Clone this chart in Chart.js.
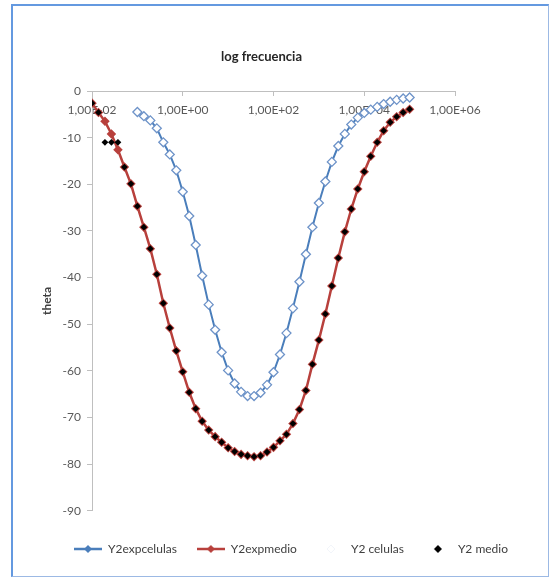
<!DOCTYPE html>
<html>
<head>
<meta charset="utf-8">
<script src="https://cdn.jsdelivr.net/npm/chart.js@4/dist/chart.umd.min.js"></script>
<style>
  body { margin: 0; background: #fff; }
  #frame {
    position: absolute; left: 11px; top: 4px; width: 535px; height: 570px;
    border-left: 2px solid #6499e0; border-top: 2px solid #6499e0;
    border-right: 1px solid #9cb9e4; border-bottom: 1px solid #9cb9e4;
  }
  #wrap { position: absolute; left: 28px; top: 7px; width: 518px; height: 567px; }
</style>
</head>
<body>
<div id="frame"></div>
<div id="wrap"><canvas id="chart"></canvas></div>
<script>
const ctx = document.getElementById("chart");

// frequency (Hz), log spaced
const freqMedio = [
  0.01, 0.0139, 0.0193, 0.0268, 0.0373, 0.0518, 0.072,
  0.1, 0.139, 0.193, 0.268, 0.373, 0.518, 0.72,
  1, 1.39, 1.93, 2.68, 3.73, 5.18, 7.2,
  10, 13.9, 19.3, 26.8, 37.3, 51.8, 72,
  100, 139, 193, 268, 373, 518, 720,
  1000, 1390, 1930, 2680, 3730, 5180, 7200,
  10000, 13900, 19300, 26800, 37300, 51800, 72000,
  100000
];
const freqCelulas = freqMedio.slice(7);

const thetaExpMedio = [
  -2.6, -4.6, -6.5, -9.2, -12.6, -16.3, -19.9, -24.7, -29.2, -33.8,
  -39.3, -45.5, -50.8, -55.7, -60.2, -64.6, -68.1, -70.8, -72.7, -74.1,
  -75.3, -76.5, -77.3, -77.9, -78.2, -78.4, -78.2, -77.4, -76.4, -75.0,
  -73.6, -71.3, -68.3, -64.2, -58.6, -53.4, -47.8, -41.8, -35.8, -30.2,
  -25.3, -21.0, -17.3, -14.0, -11.0, -8.5, -6.7, -5.5, -4.6, -3.9
];
const thetaMedio = [
  -2.6, -4.6, -11.0, -11.0, -11.0, -16.3, -19.9, -24.7, -29.2, -33.8,
  -39.3, -45.5, -50.8, -55.7, -60.2, -64.6, -68.1, -70.8, -72.7, -74.1,
  -75.3, -76.5, -77.3, -77.9, -78.2, -78.4, -78.2, -77.4, -76.4, -75.0,
  -73.6, -71.3, -68.3, -64.2, -58.6, -53.4, -47.8, -41.8, -35.8, -30.2,
  -25.3, -21.0, -17.3, -14.0, -11.0, -8.5, -6.7, -5.5, -4.6, -3.9
];
const thetaExpCelulas = [
  -4.5, -5.4, -6.3, -8.0, -11.0, -13.6, -17.0, -21.6, -26.8, -33.0,
  -39.6, -45.8, -51.2, -56.0, -59.9, -62.7, -64.5, -65.4, -65.4, -64.7,
  -63.0, -60.3, -56.5, -51.9, -46.6, -40.9, -35.0, -29.2, -24.0, -19.4,
  -15.2, -11.8, -9.2, -7.2, -5.7, -4.7, -4.0, -3.4, -2.8, -2.3,
  -1.9, -1.6, -1.4
];
const thetaCelulas = thetaExpCelulas.slice();

const xTickValues = [0.01, 1, 100, 10000, 1000000];
const xTickLabels = ["1,00E-02", "1,00E+00", "1,00E+02", "1,00E+04", "1,00E+06"];
const seriesNames = ["Y2expcelulas", "Y2expmedio", "Y2 celulas", "Y2 medio"];

const FONT = "Lato, 'Liberation Sans', sans-serif";
const BLUE = "#4a7ebb";
const RED = "#b8403c";

Chart.defaults.font.family = FONT;

function pts(xs, ys) {
  return xs.map((x, i) => ({ x: x, y: ys[i] }));
}

function legendIcon(line, fill, stroke) {
  const c = document.createElement("canvas");
  c.width = 28;
  c.height = 12;
  const g = c.getContext("2d");
  if (line) {
    g.strokeStyle = line;
    g.lineWidth = 2.5;
    g.beginPath();
    g.moveTo(0, 6);
    g.lineTo(28, 6);
    g.stroke();
  }
  if (fill) {
    g.fillStyle = fill;
    g.beginPath();
    g.moveTo(14, 2);
    g.lineTo(18, 6);
    g.lineTo(14, 10);
    g.lineTo(10, 6);
    g.closePath();
    g.fill();
    if (stroke) {
      g.strokeStyle = stroke;
      g.lineWidth = 1;
      g.stroke();
    }
  }
  return c;
}
const legendIcons = [
  legendIcon(BLUE, BLUE),
  legendIcon(RED, RED),
  legendIcon(null, "#fff", "#f2f5fa"),
  legendIcon(null, "#000")
];

// title of the log axis, drawn above the plot like the original
const topTitle = {
  id: "topTitle",
  afterDraw(chart) {
    const a = chart.chartArea;
    const c = chart.ctx;
    c.save();
    c.font = "bold 13px " + FONT;
    c.fillStyle = "#262626";
    c.textAlign = "center";
    c.textBaseline = "middle";
    c.fillText("log frecuencia", (a.left + a.right) / 2 - 12, a.top - 34);
    c.restore();
  }
};

new Chart(ctx, {
  type: "scatter",
  data: {
    datasets: [
      {
        label: seriesNames[0],
        data: pts(freqCelulas, thetaExpCelulas),
        showLine: true,
        borderColor: BLUE,
        backgroundColor: BLUE,
        borderWidth: 2,
        pointStyle: "rectRot",
        pointRadius: 3,
        order: 2
      },
      {
        label: seriesNames[1],
        data: pts(freqMedio, thetaExpMedio),
        showLine: true,
        borderColor: RED,
        backgroundColor: RED,
        borderWidth: 2.5,
        pointStyle: "rectRot",
        pointRadius: 3,
        order: 2
      },
      {
        label: seriesNames[2],
        data: pts(freqCelulas, thetaCelulas),
        borderColor: "#6f94c9",
        backgroundColor: "#ffffff",
        borderWidth: 1.3,
        pointStyle: "rectRot",
        pointRadius: 4.5,
        order: 1
      },
      {
        label: seriesNames[3],
        data: pts(freqMedio, thetaMedio),
        borderColor: "#000",
        backgroundColor: "#000",
        borderWidth: 0,
        pointStyle: "rectRot",
        pointRadius: 3.4,
        order: 1
      }
    ]
  },
  options: {
    responsive: true,
    maintainAspectRatio: false,
    animation: false,
    layout: { padding: { left: 8, right: 0, top: 84, bottom: 9 } },
    scales: {
      x: {
        type: "logarithmic",
        min: 0.01,
        max: 1000000,
        position: { y: 0 },
        afterBuildTicks(scale) {
          scale.ticks = xTickValues.map((v) => ({ value: v }));
        },
        ticks: {
          autoSkip: false,
          maxRotation: 0,
          padding: 8,
          color: "#595959",
          font: { family: FONT, size: 12 },
          callback: (v, i) => xTickLabels[i]
        },
        grid: { drawOnChartArea: false, tickLength: 4, color: "#bfbfbf" },
        border: { color: "#bfbfbf" }
      },
      y: {
        min: -90,
        max: 0,
        afterFit(scale) {
          scale.width = 56;
        },
        ticks: {
          stepSize: 10,
          padding: 6,
          color: "#595959",
          font: { family: FONT, size: 12 }
        },
        grid: { drawOnChartArea: false, tickLength: 5, color: "#bfbfbf" },
        border: { color: "#bfbfbf" },
        title: {
          display: true,
          text: "theta",
          color: "#404040",
          font: { family: FONT, size: 12, weight: "bold" },
          padding: { top: 4, bottom: 0 }
        }
      },
      // empty right-hand margin of the plot
      yRight: {
        position: "right",
        min: -90,
        max: 0,
        afterFit(scale) {
          scale.width = 91;
        },
        ticks: { display: false },
        grid: { display: false },
        border: { display: false }
      }
    },
    plugins: {
      tooltip: { enabled: false },
      legend: {
        position: "bottom",
        title: { display: true, text: "", font: { size: 1 }, padding: { top: 0, bottom: 11 } },
        labels: {
          usePointStyle: true,
          pointStyleWidth: 28,
          padding: 20,
          color: "#404040",
          font: { family: FONT, size: 12 },
          sort: (a, b) => a.datasetIndex - b.datasetIndex,
          generateLabels(chart) {
            const items = Chart.defaults.plugins.legend.labels.generateLabels(chart);
            items.forEach((it) => {
              it.pointStyle = legendIcons[it.datasetIndex];
            });
            return items;
          }
        }
      }
    }
  },
  plugins: [topTitle]
});
</script>
</body>
</html>
